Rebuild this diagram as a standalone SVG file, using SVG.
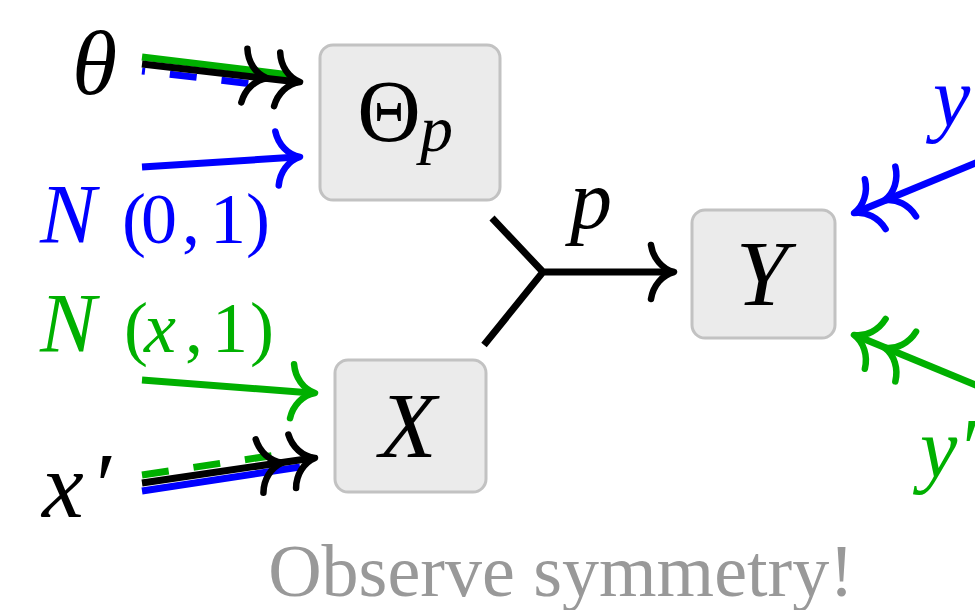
<svg xmlns="http://www.w3.org/2000/svg" xmlns:xlink="http://www.w3.org/1999/xlink" width="975" height="610" viewBox="0 0 975 610">
<style>
.box{fill:#ebebeb;stroke:#c2c2c2;stroke-width:3}
.ln{fill:none;stroke-width:7;stroke-linecap:butt}
.tip{fill:none;stroke-width:6.5;stroke-linecap:round;stroke-linejoin:round}
.k{stroke:#000}
.b{stroke:#0000ff}
.g{stroke:#00b000}
.m{font-family:"Liberation Serif","DejaVu Serif",serif;font-style:italic}
.r{font-family:"Liberation Serif","DejaVu Serif",serif;font-style:normal}
</style>
<defs>
<path id="chev" d="M-23,-27 C-21,-14 -12,-3 0,0 C-12,3 -21,14 -23,27"/>
<g id="dchev"><use xlink:href="#chev"/><use xlink:href="#chev" transform="translate(-33,0)"/></g>
</defs>
<rect width="975" height="610" fill="#fff"/>

<g id="node-theta">
<rect class="box" x="320" y="45" width="180" height="155" rx="13"/>
<text x="389" y="141" class="r" font-size="88" text-anchor="middle">Θ</text>
<text x="420" y="151" class="m" font-size="66">p</text>
</g>
<g id="node-x">
<rect class="box" x="335" y="360" width="151" height="132" rx="13"/>
<text x="408" y="457" class="m" font-size="94" text-anchor="middle">X</text>
</g>
<g id="node-y">
<rect class="box" x="692" y="210" width="143" height="128" rx="13"/>
<text x="762" y="305" class="m" font-size="94" text-anchor="middle">Y</text>
</g>

<g id="labels">
<text x="72" y="94" class="m" font-size="92">θ</text>
<text y="243" font-size="72" class="r" fill="#0000ff"><tspan x="40" class="m" font-size="84">N</tspan><tspan x="122">(</tspan><tspan x="141">0</tspan><tspan x="182">,</tspan><tspan x="210">1</tspan><tspan x="246">)</tspan></text>
<text y="352" font-size="72" class="r" fill="#00b000"><tspan x="40" class="m" font-size="84">N</tspan><tspan x="124">(</tspan><tspan x="144" class="m">x</tspan><tspan x="185">,</tspan><tspan x="212">1</tspan><tspan x="250">)</tspan></text>
<text y="517" class="m" font-size="94"><tspan x="42">x</tspan><tspan x="90">′</tspan></text>
<text x="933" y="126" class="m" font-size="84" fill="#0000ff">y</text>
<text x="920" y="477" class="m" font-size="84" fill="#00b000">y′</text>
<text x="570" y="228" class="m" font-size="84">p</text>
<text x="561" y="596" class="r" font-size="74" fill="#999999" text-anchor="middle">Observe symmetry!</text>
</g>

<g id="connectors">
<!-- theta -> Theta_p (triple line) -->
<line class="ln b" x1="142" y1="71" x2="262" y2="85" stroke-dasharray="27 25" stroke-dashoffset="24"/>
<line class="ln g" x1="142" y1="57" x2="290" y2="75"/>
<line class="ln k" x1="142" y1="64" x2="298" y2="82"/>
<use xlink:href="#dchev" class="tip k" transform="translate(300,82) rotate(6.5)"/>
<!-- N(0,1) -> Theta_p -->
<line class="ln b" x1="142" y1="167" x2="297" y2="157" stroke-width="6"/>
<use xlink:href="#chev" class="tip b" transform="translate(300,157) rotate(-3.6)"/>
<!-- N(x,1) -> X -->
<line class="ln g" x1="142" y1="380" x2="312" y2="393" stroke-width="6"/>
<use xlink:href="#chev" class="tip g" transform="translate(315,393) rotate(4.3)"/>
<!-- x' -> X (triple line) -->
<line class="ln g" x1="142" y1="475" x2="290" y2="453" stroke-dasharray="27 25"/>
<line class="ln b" x1="142" y1="491" x2="300" y2="467"/>
<line class="ln k" x1="142" y1="483" x2="313" y2="458"/>
<use xlink:href="#dchev" class="tip k" transform="translate(315,458) rotate(-8.2)"/>
<!-- merge p -> Y -->
<path class="ln k" d="M492,218 L543,272 L484,345 M543,272 L671,272"/>
<use xlink:href="#chev" class="tip k" transform="translate(674,272)"/>
<!-- y -> Y -->
<line class="ln b" x1="978" y1="162" x2="857" y2="212" stroke-width="6"/>
<use xlink:href="#dchev" class="tip b" transform="translate(854,213) rotate(157.4)"/>
<!-- y' -> Y -->
<line class="ln g" x1="978" y1="386" x2="857" y2="336" stroke-width="6"/>
<use xlink:href="#dchev" class="tip g" transform="translate(854,335) rotate(202.6)"/>
</g>
</svg>
